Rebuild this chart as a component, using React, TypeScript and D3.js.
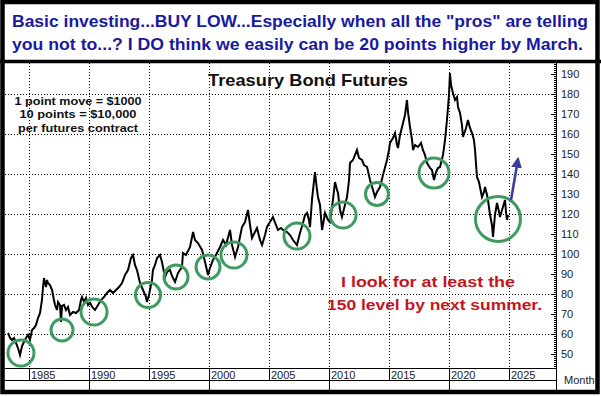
import React from "react";
import * as d3 from "d3";

// Treasury bond futures, continuous monthly-ish closes
const years = [
  1983.25, 1983.42, 1983.58, 1983.75, 1983.92, 1984.08, 1984.25, 1984.42, 1984.58, 1984.75, 1984.92,
  1985.08, 1985.25, 1985.42, 1985.58, 1985.75, 1985.92, 1986.08, 1986.17, 1986.25, 1986.33, 1986.42,
  1986.5, 1986.58, 1986.75, 1986.92, 1987.08, 1987.17, 1987.33, 1987.42, 1987.58, 1987.67, 1987.75,
  1987.92, 1988.08, 1988.25, 1988.42, 1988.67, 1988.92, 1989.17, 1989.33, 1989.42, 1989.58, 1989.75,
  1989.92, 1990.08, 1990.33, 1990.5, 1990.75, 1991.0, 1991.25, 1991.5, 1991.75, 1992.0, 1992.25,
  1992.5, 1992.75, 1993.0, 1993.25, 1993.5, 1993.67, 1993.83, 1994.0, 1994.25, 1994.5, 1994.75,
  1994.83, 1995.0, 1995.08, 1995.25, 1995.33, 1995.5, 1995.67, 1995.92, 1996.08, 1996.33, 1996.5,
  1996.75, 1996.92, 1997.17, 1997.42, 1997.75, 1997.83, 1998.08, 1998.42, 1998.67, 1998.83, 1999.08,
  1999.42, 1999.67, 1999.92, 2000.08, 2000.33, 2000.58, 2000.92, 2001.17, 2001.42, 2001.75, 2001.92,
  2002.17, 2002.42, 2002.58, 2002.75, 2003.0, 2003.25, 2003.42, 2003.58, 2003.83, 2004.0, 2004.25,
  2004.42, 2004.67, 2004.83, 2005.08, 2005.33, 2005.58, 2005.75, 2006.0, 2006.17, 2006.5, 2006.75,
  2007.0, 2007.33, 2007.58, 2007.83, 2008.0, 2008.17, 2008.33, 2008.42, 2008.58, 2008.83, 2009.0,
  2009.08, 2009.25, 2009.42, 2009.67, 2009.92, 2010.08, 2010.33, 2010.5, 2010.67, 2010.75, 2010.92,
  2011.08, 2011.33, 2011.5, 2011.67, 2011.75, 2012.0, 2012.33, 2012.5, 2012.75, 2012.92, 2013.17,
  2013.42, 2013.67, 2013.83, 2014.0, 2014.25, 2014.5, 2014.83, 2015.0, 2015.08, 2015.33, 2015.5,
  2015.67, 2015.75, 2015.92, 2016.17, 2016.33, 2016.5, 2016.58, 2016.75, 2016.92, 2017.0, 2017.17,
  2017.42, 2017.67, 2017.83, 2018.0, 2018.17, 2018.42, 2018.58, 2018.75, 2018.92, 2019.08, 2019.25,
  2019.5, 2019.67, 2019.75, 2019.83, 2020.0, 2020.08, 2020.17, 2020.33, 2020.5, 2020.67, 2020.75,
  2020.92, 2021.08, 2021.17, 2021.42, 2021.58, 2021.75, 2021.92, 2022.08, 2022.17, 2022.33, 2022.5,
  2022.58, 2022.75, 2022.92, 2023.0, 2023.17, 2023.25, 2023.42, 2023.58, 2023.67, 2023.83, 2024.0,
  2024.17, 2024.25, 2024.42, 2024.67, 2024.75, 2024.83, 2024.92,
];
const values = [
  60.5, 58, 57, 58, 55.5, 53, 49.5, 54, 56, 58, 59.5,
  57, 62, 63, 64.5, 68, 70.5, 77, 83.5, 88, 85.5, 83.5,
  87, 85.5, 84.5, 82, 77, 74.5, 72, 76, 74.5, 66, 74,
  74.5, 72, 73.5, 69.5, 71, 70.5, 72, 77, 78.5, 76, 78,
  74.5, 75.5, 73, 72, 74.5, 77, 78.5, 80.5, 82, 80.5, 82,
  83.5, 85.5, 89.5, 92, 98, 99.5, 94.5, 92, 85.5, 82, 78.5,
  76, 79.5, 82, 87, 92, 94.5, 98, 99.5, 96, 88.5, 91,
  92, 89, 86, 90.5, 93.5, 100.5, 99.5, 103.5, 111, 107, 105.5,
  102, 96, 89.5, 93, 97, 99.5, 103.5, 107, 104.5, 112, 104.5,
  98.5, 103.5, 108.5, 113.5, 116, 122, 114.5, 108, 111, 113, 107,
  104.5, 109.5, 113.5, 116, 118.5, 114.5, 112, 113, 112, 111, 109.5,
  107, 104.5, 110.5, 115.5, 119.5, 120.5, 117, 113.5, 127, 141, 132,
  128.5, 124.5, 112, 120.5, 117, 116, 127, 136, 132, 130.5, 122,
  118.5, 124.5, 128.5, 137, 145.5, 147, 152, 148, 147, 144.5, 143.5,
  137, 132, 128.5, 131, 133.5, 139.5, 147, 152, 155.5, 158, 160.5,
  154.5, 153, 159.5, 165.5, 169.5, 177, 171, 163.5, 157, 152, 154.5,
  153.5, 155.5, 152, 149.5, 145.5, 143, 142, 137, 141, 143, 143.5,
  149.5, 157, 162, 167, 179.5, 190.5, 184.5, 180.5, 177, 178.5, 173.5,
  170.5, 164.5, 158.5, 163, 167, 163, 160.5, 157, 152, 138.5, 136,
  133.5, 128.5, 131, 133.5, 129.5, 127, 119.5, 114.5, 108.5, 119.5, 125.5,
  121, 118.5, 122, 127, 121, 117, 119.5,
];

const valueTicks = [50, 60, 70, 80, 90, 100, 110, 120, 130, 140, 150, 160, 170, 180, 190];
const gridValues = [60, 80, 100, 120, 140, 160, 180];
const yearTicks = [1985, 1990, 1995, 2000, 2005, 2010, 2015, 2020, 2025];
const decadeYears = [1990, 2000, 2010, 2020];

// buy-low circles (year, value)
const circleYears = [1984.33, 1987.75, 1990.42, 1994.92, 1997.25, 1999.92, 2002.08, 2007.33, 2011.17, 2014.0, 2018.75, 2024.08];
const circleValues = [50.5, 62, 71, 79.5, 88.5, 93.5, 99.5, 109, 119.5, 130, 140.5, 117.5];
const circleSizes = [13, 11, 13, 12.5, 12, 12, 13, 13, 13, 11.5, 15, 22.5];

const arrowFrom = { year: 2025.17, value: 127 };
const arrowTo = { year: 2025.75, value: 147.5 };

const headerLines = [
  'Basic investing...BUY LOW...Especially when all the "pros" are telling',
  "you not to...? I DO think we easily can be 20 points higher by March.",
];
const noteLines = ["1 point move = $1000", "10 points = $10,000", "per futures contract"];
const redLines = ["I look for at least the", "150 level by next summer."];

export default function App() {
  const W = 601, H = 397;
  const plotL = 5, plotR = 556, plotT = 63, plotB = 368;
  const x = d3.scaleLinear().domain([1985, 2025]).range([29, 509]);
  const y = d3.scaleLinear().domain([50, 190]).range([354, 74]);

  const data = years.map((yr, i) => [yr, values[i]] as [number, number]);
  const line = d3.line<[number, number]>().x((d) => x(d[0])).y((d) => y(d[1]));

  const minorTicks = d3.range(44, 196, 1);
  const font = "'Liberation Sans', Arial, sans-serif";
  const blue = "#1a1a9e";
  const red = "#c2161e";
  const green = "#3f9a60";

  return (
    <svg width={W} height={H} style={{ position: "fixed", left: 0, top: 0, background: "#fff" }} fontFamily={font}>
      <defs>
        <clipPath id="plotclip">
          <rect x={plotL} y={plotT} width={plotR - plotL} height={plotB - plotT} />
        </clipPath>
        <marker id="ah" viewBox="0 0 10 10" refX="8" refY="5" markerWidth="4.2" markerHeight="4.2" orient="auto">
          <path d="M0,0 L10,5 L0,10 z" fill="#3c3e9c" />
        </marker>
      </defs>
      <rect x={0} y={0} width={W} height={H} fill="#fff" />

      {/* header */}
      {headerLines.map((t, i) => (
        <text key={i} x={12} y={27 + i * 22.5} fontSize={16} fontWeight="bold" fill={blue}
          textLength={i === 0 ? 576 : 571} lengthAdjust="spacingAndGlyphs">{t}</text>
      ))}

      {/* grid */}
      {gridValues.map((v) => (
        <line key={"h" + v} x1={plotL} x2={plotR} y1={y(v) + 0.5} y2={y(v) + 0.5} stroke="#000" strokeWidth={1} strokeDasharray="1,2" />
      ))}
      {yearTicks.map((yr) => (
        <line key={"v" + yr} x1={Math.round(x(yr)) + 0.5} x2={Math.round(x(yr)) + 0.5} y1={plotT} y2={plotB} stroke="#000" strokeWidth={1} strokeDasharray="1,2" />
      ))}

      {/* title & notes */}
      <text x={208} y={86} fontSize={17} fontWeight="bold" fill="#111" textLength={200} lengthAdjust="spacingAndGlyphs">Treasury Bond Futures</text>
      {noteLines.map((t, i) => (
        <text key={i} x={78} y={105 + i * 13.3} fontSize={11} fontWeight="bold" fill="#111" textAnchor="middle"
          textLength={[127, 117, 120][i]} lengthAdjust="spacingAndGlyphs">{t}</text>
      ))}

      {/* price line */}
      <path d={line(data) || ""} fill="none" stroke="#000" strokeWidth={2} strokeLinejoin="miter" clipPath="url(#plotclip)" />

      {/* circles */}
      {circleYears.map((yr, i) => (
        <circle key={i} cx={x(yr)} cy={y(circleValues[i])} r={circleSizes[i]} fill="none" stroke={green} strokeWidth={3} />
      ))}

      {/* arrow */}
      <line x1={x(arrowFrom.year)} y1={y(arrowFrom.value)} x2={x(arrowTo.year)} y2={y(arrowTo.value)}
        stroke="#3c3e9c" strokeWidth={2.6} markerEnd="url(#ah)" />

      {/* red note */}
      {redLines.map((t, i) => (
        <text key={i} x={i === 0 ? 341 : 327} y={287 + i * 23} fontSize={14} fontWeight="bold" fill={red}
          textLength={i === 0 ? 174 : 215} lengthAdjust="spacingAndGlyphs">{t}</text>
      ))}

      {/* right axis */}
      <line x1={plotR + 0.5} x2={plotR + 0.5} y1={plotT} y2={391} stroke="#000" strokeWidth={1} />
      {minorTicks.map((v) => (
        <line key={"m" + v} x1={plotR - (v % 10 === 0 ? 5 : 2)} x2={plotR} y1={Math.round(y(v)) + 0.5} y2={Math.round(y(v)) + 0.5} stroke="#000" strokeWidth={1} />
      ))}
      {valueTicks.map((v) => (
        <text key={"t" + v} x={561} y={y(v) + 4} fontSize={11} fill="#222">{v}</text>
      ))}

      {/* bottom axis rows */}
      <line x1={plotL} x2={plotR} y1={plotB + 0.5} y2={plotB + 0.5} stroke="#000" strokeWidth={1} />
      <line x1={plotL} x2={plotR} y1={380.5} y2={380.5} stroke="#000" strokeWidth={1} />
      {yearTicks.map((yr) => (
        <g key={"yt" + yr}>
          <line x1={Math.round(x(yr)) + 0.5} x2={Math.round(x(yr)) + 0.5} y1={plotB} y2={380} stroke="#000" strokeWidth={1} />
          <text x={Math.round(x(yr)) + 2} y={378.5} fontSize={11} fill="#222">{yr}</text>
        </g>
      ))}
      {decadeYears.map((yr) => (
        <line key={"d" + yr} x1={Math.round(x(yr)) + 0.5} x2={Math.round(x(yr)) + 0.5} y1={380} y2={391} stroke="#000" strokeWidth={1} />
      ))}
      <text x={564} y={384} fontSize={11} fill="#222">Month</text>

      {/* frame */}
      <line x1={0} x2={W} y1={61.5} y2={61.5} stroke="#000" strokeWidth={3.5} />
      <rect x={2.5} y={2} width={595} height={390} fill="none" stroke="#000" strokeWidth={4.5} />
    </svg>
  );
}
